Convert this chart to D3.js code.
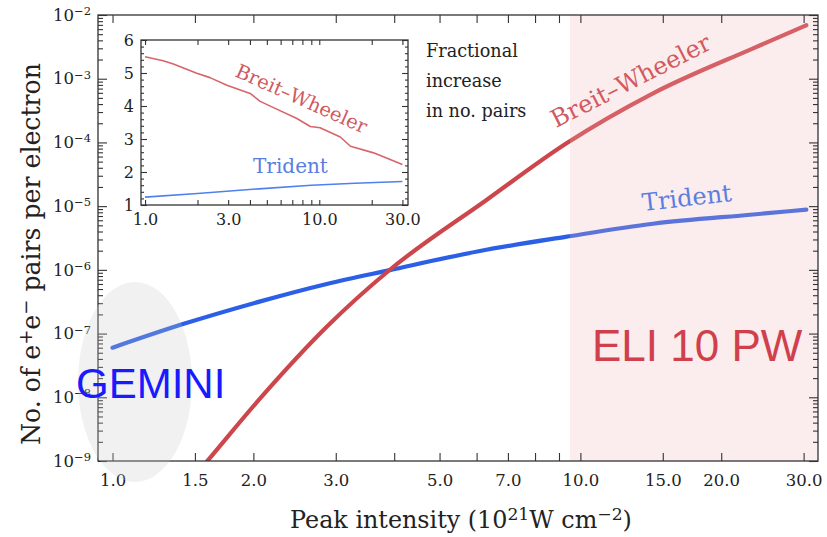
<!DOCTYPE html>
<html><head><meta charset="utf-8">
<script src="https://cdn.jsdelivr.net/npm/d3@7"></script>
<style>
body{margin:0;background:#fff}
svg{display:block}
text{font-family:"DejaVu Serif",serif;fill:#222}
</style>
</head><body>
<svg id="chart" width="827" height="537"></svg>
<script>
// ---------- data ----------
const tridentIntensity = [1.0, 1.42, 2.07, 2.87, 3.91, 6.1, 9.3, 14.3, 23.4, 30.4];
const tridentPairs     = [6.0e-8, 1.42e-7, 3.2e-7, 6.0e-7, 9.9e-7, 1.98e-6, 3.3e-6, 5.3e-6, 7.4e-6, 8.8e-6];
const bwIntensity = [1.5, 1.59, 2.07, 2.87, 3.91, 6.3, 9.34, 14.3, 23.4, 30.4];
const bwPairs     = [5.9e-10, 9.75e-10, 9.7e-9, 1.28e-7, 9.95e-7, 1.25e-5, 9.7e-5, 5.9e-4, 3.0e-3, 6.9e-3];

const insetBWIntensity = [1.0, 1.27, 1.455, 1.98, 2.36, 2.95, 4.01, 4.58, 5.46, 7.44, 8.88, 10.1, 13.2, 15.1, 20.5, 30.0];
const insetBWRatio     = [5.49, 5.37, 5.27, 4.99, 4.86, 4.63, 4.38, 4.14, 3.95, 3.62, 3.38, 3.34, 3.06, 2.78, 2.58, 2.23];
const insetTridentIntensity = [1.0, 2.0, 4.5, 9.0, 16.0, 30.0];
const insetTridentRatio     = [1.24, 1.35, 1.49, 1.60, 1.66, 1.71];

const xTickValues = [1, 1.5, 2, 3, 4, 5, 6, 7, 8, 9, 10, 15, 20, 30];
const xTickLabels = {1:"1.0", 1.5:"1.5", 2:"2.0", 3:"3.0", 5:"5.0", 7:"7.0", 10:"10.0", 15:"15.0", 20:"20.0", 30:"30.0"};
const yDecades = [-9, -8, -7, -6, -5, -4, -3, -2];
const insetXTickValues = [1, 2, 3, 4, 5, 6, 7, 8, 9, 10, 20, 30];
const insetXTickLabels = {1:"1.0", 3:"3.0", 10:"10.0", 30:"30.0"};
const insetYTicks = [1, 2, 3, 4, 5, 6];
const eliStart = 9.5;            // intensity where the ELI 10 PW band starts
const geminiCenter = [1.117, 1.74e-8];

// ---------- setup ----------
const svg = d3.select("#chart");
const M = {left: 98, right: 818, top: 15, bottom: 461};
const x = d3.scaleLog().domain([0.931, 32.2]).range([M.left, M.right]);
const y = d3.scaleLog().domain([1e-9, 1e-2]).range([M.bottom, M.top]);

const I = {left: 141, right: 408, top: 40, bottom: 205};
const xi = d3.scaleLog().domain([0.948, 32.3]).range([I.left, I.right]);
const yi = d3.scaleLinear().domain([1, 6]).range([I.bottom, I.top]);

const RED = "#cd464c", BLUE = "#2a5fe6";
const AX = "#333";

svg.append("rect").attr("width", 827).attr("height", 537).attr("fill", "#fff");

svg.append("clipPath").attr("id", "clipMain").append("rect")
  .attr("x", M.left).attr("y", M.top).attr("width", M.right - M.left).attr("height", M.bottom - M.top);

const line = d3.line().x(d => x(d[0])).y(d => y(d[1])).curve(d3.curveMonotoneX);
const gLines = svg.append("g").attr("clip-path", "url(#clipMain)");
gLines.append("path").datum(d3.zip(tridentIntensity, tridentPairs))
  .attr("d", line).attr("fill", "none").attr("stroke", BLUE).attr("stroke-width", 4.2).attr("stroke-linecap", "round");
gLines.append("path").datum(d3.zip(bwIntensity, bwPairs))
  .attr("d", line).attr("fill", "none").attr("stroke", RED).attr("stroke-width", 4.2).attr("stroke-linecap", "round");

// ELI band (semi-transparent overlay)
svg.append("rect")
  .attr("x", x(eliStart)).attr("y", M.top)
  .attr("width", x.range()[1] - x(eliStart)).attr("height", M.bottom - M.top)
  .attr("fill", "#f0b4b9").attr("opacity", 0.25);

// ---------- main axes ----------
function styleAxis(g) {
  g.select(".domain").remove();
  g.selectAll(".tick line").attr("stroke", AX).attr("stroke-width", 1.1);
}
const fmtX = d => xTickLabels[d] || "";
svg.append("g").attr("transform", `translate(0,${M.bottom})`)
  .call(d3.axisBottom(x).tickValues(xTickValues).tickFormat(fmtX).tickSize(-8).tickSizeOuter(0).tickPadding(13))
  .call(styleAxis)
  .call(g => g.selectAll("text").attr("font-size", 16.5).attr("font-family", "DejaVu Serif").attr("fill", "#222"));
svg.append("g").attr("transform", `translate(0,${M.top})`)
  .call(d3.axisTop(x).tickValues(xTickValues).tickFormat("").tickSize(-8).tickSizeOuter(0))
  .call(styleAxis);

const yMinor = [];
yDecades.slice(0, -1).forEach(e => { for (let k = 2; k <= 9; k++) yMinor.push(k * Math.pow(10, e)); });
const yMajor = yDecades.map(e => Math.pow(10, e));

[[d3.axisLeft, M.left], [d3.axisRight, M.right]].forEach(([ax, pos], idx) => {
  svg.append("g").attr("transform", `translate(${pos},0)`)
    .call(ax(y).tickValues(yMinor).tickFormat("").tickSize(-5).tickSizeOuter(0)).call(styleAxis);
  const g = svg.append("g").attr("transform", `translate(${pos},0)`)
    .call(ax(y).tickValues(yMajor).tickFormat("").tickSize(-9).tickSizeOuter(0)).call(styleAxis);
  if (idx === 0) {
    g.selectAll(".tick text").each(function(d) {
      const t = d3.select(this).text(null)
        .attr("x", -7).attr("dy", "0.32em").attr("text-anchor", "end")
        .attr("font-size", 16.5).attr("font-family", "DejaVu Serif").attr("fill", "#222");
      t.append("tspan").text("10");
      t.append("tspan").attr("dy", "-0.5em").attr("font-size", 11.5).text("\u2212" + Math.abs(Math.round(Math.log10(d))));
    });
  }
});

svg.append("rect").attr("x", M.left).attr("y", M.top)
  .attr("width", M.right - M.left).attr("height", M.bottom - M.top)
  .attr("fill", "none").attr("stroke", AX).attr("stroke-width", 1.3);

// GEMINI ellipse (semi-transparent overlay)
svg.append("ellipse")
  .attr("cx", x(geminiCenter[0])).attr("cy", y(geminiCenter[1]))
  .attr("rx", 57).attr("ry", 100)
  .attr("fill", "#c8c8c8").attr("opacity", 0.25);

// ---------- axis titles ----------
function fit(sel, target) {
  const len = sel.node().getComputedTextLength();
  const fs = parseFloat(sel.attr("font-size"));
  sel.attr("font-size", fs * target / len);
}
const xt = svg.append("text").attr("x", 461).attr("y", 528).attr("text-anchor", "middle").attr("font-size", 20);
xt.append("tspan").text("Peak intensity (10");
xt.append("tspan").attr("dy", "-0.45em").attr("font-size", "0.72em").text("21");
xt.append("tspan").attr("dy", "0.32em").text("W cm");
xt.append("tspan").attr("dy", "-0.45em").attr("font-size", "0.72em").text("\u22122");
xt.append("tspan").attr("dy", "0.32em").text(")");
fit(xt, 342);

const yt = svg.append("text").attr("transform", "translate(40,254) rotate(-90)").attr("text-anchor", "middle").attr("font-size", 20);
yt.append("tspan").text("No. of e");
yt.append("tspan").attr("dy", "-0.45em").attr("font-size", "0.72em").text("+");
yt.append("tspan").attr("dy", "0.32em").text("e");
yt.append("tspan").attr("dy", "-0.45em").attr("font-size", "0.72em").text("\u2212");
yt.append("tspan").attr("dy", "0.32em").text(" pairs per electron");
fit(yt, 382);

// ---------- curve labels ----------
const bwLab = svg.append("text").attr("transform", "translate(556,128) rotate(-27)")
  .attr("font-size", 24).style("fill", "#d05a60").text("Breit\u2013Wheeler");
fit(bwLab, 176);
const trLab = svg.append("text").attr("transform", "translate(643,211) rotate(-6.5)")
  .attr("font-size", 24).style("fill", "#5a7ee0").text("Trident");
fit(trLab, 90);

// ---------- inset ----------
svg.append("rect").attr("x", I.left).attr("y", I.top).attr("width", I.right - I.left).attr("height", I.bottom - I.top).attr("fill", "#fff");
const iline = d3.line().x(d => xi(d[0])).y(d => yi(d[1]));
svg.append("path").datum(d3.zip(insetBWIntensity, insetBWRatio)).attr("d", iline)
  .attr("fill", "none").attr("stroke", "#d8646a").attr("stroke-width", 1.6).attr("stroke-linejoin", "round");
svg.append("path").datum(d3.zip(insetTridentIntensity, insetTridentRatio)).attr("d", iline)
  .attr("fill", "none").attr("stroke", "#4f80f0").attr("stroke-width", 1.6);

const insetYMinor = d3.range(1, 6.001, 0.2).filter(v => Math.abs(v - Math.round(v)) > 1e-6);
svg.append("g").attr("transform", `translate(0,${I.bottom})`)
  .call(d3.axisBottom(xi).tickValues(insetXTickValues).tickFormat(d => insetXTickLabels[d] || "").tickSize(-5).tickSizeOuter(0).tickPadding(9))
  .call(styleAxis)
  .call(g => g.selectAll("text").attr("font-size", 16).attr("font-family", "DejaVu Serif").attr("fill", "#222"));
svg.append("g").attr("transform", `translate(0,${I.top})`)
  .call(d3.axisTop(xi).tickValues(insetXTickValues).tickFormat("").tickSize(-5).tickSizeOuter(0)).call(styleAxis);
svg.append("g").attr("transform", `translate(${I.left},0)`)
  .call(d3.axisLeft(yi).tickValues(insetYTicks).tickFormat(d3.format("d")).tickSize(-6).tickSizeOuter(0).tickPadding(7))
  .call(styleAxis)
  .call(g => g.selectAll("text").attr("font-size", 16).attr("font-family", "DejaVu Serif").attr("fill", "#222"));
svg.append("g").attr("transform", `translate(${I.left},0)`)
  .call(d3.axisLeft(yi).tickValues(insetYMinor).tickFormat("").tickSize(-3).tickSizeOuter(0)).call(styleAxis);
svg.append("g").attr("transform", `translate(${I.right},0)`)
  .call(d3.axisRight(yi).tickValues(insetYTicks).tickFormat("").tickSize(-6).tickSizeOuter(0)).call(styleAxis);
svg.append("g").attr("transform", `translate(${I.right},0)`)
  .call(d3.axisRight(yi).tickValues(insetYMinor).tickFormat("").tickSize(-3).tickSizeOuter(0)).call(styleAxis);
svg.append("rect").attr("x", I.left).attr("y", I.top).attr("width", I.right - I.left).attr("height", I.bottom - I.top)
  .attr("fill", "none").attr("stroke", AX).attr("stroke-width", 1.3);

const ibw = svg.append("text").attr("transform", "translate(234,76) rotate(24)")
  .attr("font-size", 20).style("fill", "#d05a60").text("Breit\u2013Wheeler");
fit(ibw, 142);
const itr = svg.append("text").attr("x", 253).attr("y", 173)
  .attr("font-size", 20).style("fill", "#5a7ee0").text("Trident");
fit(itr, 75);

const fracLines = ["Fractional", "increase", "in no. pairs"];
const fr = svg.append("g");
fracLines.forEach((s, i) => fr.append("text").attr("x", 426).attr("y", 57 + i * 30).attr("font-size", 17.5).text(s));
{
  const f0 = fr.select("text");
  const len = f0.node().getComputedTextLength();
  fr.selectAll("text").attr("font-size", 17.5 * 92 / len);
}

// ---------- facility annotations ----------
svg.append("text").attr("x", 76).attr("y", 398)
  .style("font-family", "'Liberation Sans', Arial, sans-serif").attr("font-size", 42)
  .style("fill", "#1a1aff").text("GEMINI");
svg.append("text").attr("x", 592).attr("y", 361)
  .style("font-family", "'Liberation Sans', Arial, sans-serif").attr("font-size", 44)
  .style("fill", "#d0404c").text("ELI 10 PW");
</script>
</body></html>
